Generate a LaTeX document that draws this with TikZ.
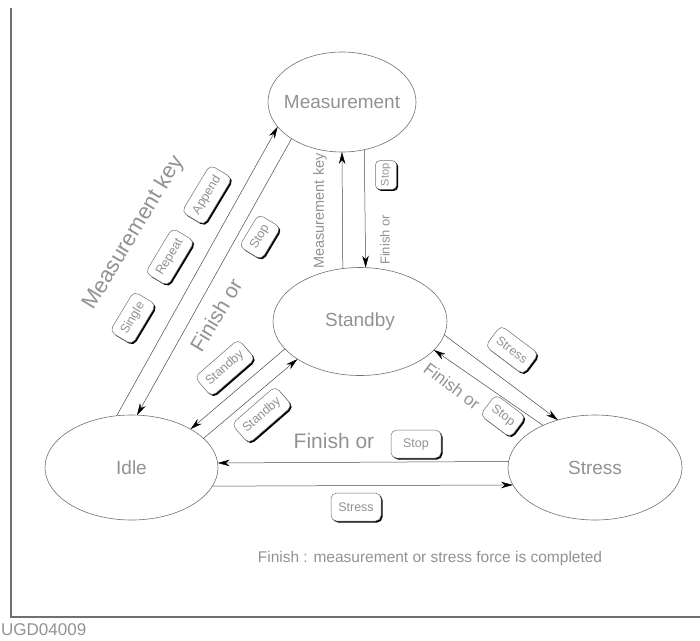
\documentclass[tikz,border=0pt]{standalone}
\usepackage{fontspec}
\setmainfont{Liberation Sans}
\usetikzlibrary{arrows.meta,shadows,shapes.geometric}
\definecolor{txt}{HTML}{929292}
\definecolor{edge}{HTML}{707070}
\definecolor{conn}{HTML}{4A4A4A}
\newcommand{\fsz}[1]{\fontsize{#1}{#1}\selectfont}
\begin{document}
\begin{tikzpicture}[x=1pt,y=-1pt,
  state/.style={ellipse,draw=edge,line width=0.6pt,inner sep=0pt,outer sep=0pt,text=txt,font=\fsz{19}},
  link/.style={draw=conn,line width=0.5pt,-{Stealth[length=12pt,width=6.5pt,color=black]}},
  lbl/.style={text=txt,inner sep=0pt},
  key/.style={draw=edge,fill=white,rounded corners=5.5pt,line width=0.5pt,text=txt,
    inner xsep=6pt,inner ysep=0pt,minimum height=26pt,font=\fsz{12.5},
    drop shadow={shadow xshift=1.5pt,shadow yshift=-1.5pt,fill=black,opacity=1}},
  bigkey/.style={key,minimum height=28pt,minimum width=50pt,font=\fsz{12.5}},
  smallkey/.style={key,minimum height=21pt,inner xsep=3pt,rounded corners=4pt,font=\fsz{11}},
  frame/.style={draw=edge,line width=1.2pt}
]
\useasboundingbox (0,0) rectangle (700,640);
\draw[frame] (11,8) -- (11,617) -- (700,617);

% states
\node[state,minimum width=148pt,minimum height=100pt] (meas) at (342,102) {\makebox[0pt]{Measurement}};
\node[state,minimum width=174pt,minimum height=108pt] (stby) at (360,321.5) {\makebox[0pt]{Standby}};
\node[state,minimum width=173pt,minimum height=105pt] (idle) at (131.5,467.5) {\makebox[0pt]{Idle}};
\node[state,minimum width=174pt,minimum height=105pt] (stress) at (595,467.5) {\makebox[0pt]{Stress}};

% connectors
\draw[link] (idle.106.8) -- (meas.201.3);
\draw[link] (meas.216.3) -- (idle.84.2);
\draw[link] (stby.108.8) -- (meas.270);
\draw[link] (meas.295.8) -- (stby.84.7);
\draw[link] (stby.200.1) -- (idle.33.1);
\draw[link] (idle.22.7) -- (stby.211.2);
\draw[link] (stby.351.2) -- (stress.128.4);
\draw[link] (stress.141.3) -- (stby.339.7);
\draw[link] (stress.176.4) -- (idle.3.66);
\draw[link] (idle.347.1) -- (stress.192.8);

% labels
\node[lbl,rotate=59,font=\fsz{22}] (mk) at (134,233) {Measurement key};
\node[key,rotate=59] (ksingle) at (133,318) {Single};
\node[key,rotate=59] (krepeat) at (170,257) {Repeat};
\node[key,rotate=59] (kappend) at (207,195) {Append};
\node[lbl,rotate=59,font=\fsz{21}] (fo1) at (216,315) {Finish or};
\node[key,rotate=59] (kstop1) at (260,237) {Stop};

\node[lbl,rotate=90,font=\fsz{14.5}] (mk2) at (320,211) {Measurement key};
\node[lbl,rotate=90,font=\fsz{13}] (fo2) at (385,240) {Finish or};
\node[smallkey,rotate=90] (kstop2) at (386,175) {Stop};

\node[key,rotate=41] (kstby1) at (225,368) {Standby};
\node[key,rotate=41] (kstby2) at (262,415) {Standby};

\node[key,rotate=-37] (kstress1) at (512,350) {Stress};
\node[lbl,rotate=-37,font=\fsz{17}] (fo3) at (452,386) {Finish or};
\node[key,rotate=-37] (kstop3) at (503,416) {Stop};

\node[lbl,font=\fsz{21}] (fo4) at (334,441) {Finish or};
\node[bigkey] (kstop4) at (416,444) {Stop};
\node[bigkey] (kstress2) at (356,507) {Stress};

\node[lbl,font=\fsz{15.5}] (note) at (430,558) {Finish : measurement or stress force is completed};
\node[lbl,anchor=west,font=\fsz{17}] (fig) at (1,630) {UGD04009};
\end{tikzpicture}
\end{document}
